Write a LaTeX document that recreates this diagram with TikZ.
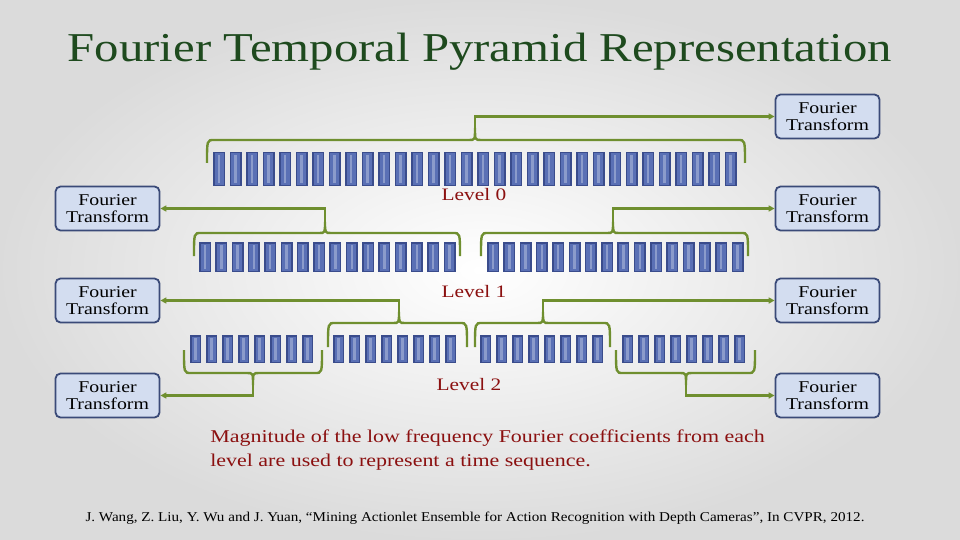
\documentclass[tikz,border=0pt]{standalone}
\usepackage{fontspec}
\setmainfont{Liberation Serif}
\usetikzlibrary{arrows.meta,shadows}
\definecolor{brg}{HTML}{6F8F2F}
\definecolor{barf}{HTML}{5A70B5}
\definecolor{bard}{HTML}{3A4C8C}
\definecolor{boxf}{HTML}{D3DDF0}
\definecolor{boxd}{HTML}{3A4A78}
\definecolor{ttl}{HTML}{1E4A1E}
\definecolor{lvl}{HTML}{8B1010}
\tikzset{
  wide/.style={xscale=1.22,transform shape},
  ftbox/.style={draw=boxd,fill=boxf,line width=1.8pt,rounded corners=5pt,minimum width=104pt,minimum height=44pt,inner sep=1pt},
  fttxt/.style={align=center,inner sep=0pt,font=\fontsize{16.5}{17.5}\selectfont,xscale=1.2,transform shape},
  brc/.style={draw=brg,line width=2.4pt},
  arr/.style={brc,-{Triangle[length=6pt,width=6pt]}},
  lvltxt/.style={text=lvl,font=\fontsize{17.5}{19}\selectfont,wide}
}
\newcommand\mybrace[6]{% x1 x2 xm ybase yend ypeak
  \draw[brc] (#1,#5) .. controls (#1,#4) .. (#1+7,#4) -- (#3-6,#4) .. controls (#3,#4) .. (#3,#6)
    .. controls (#3,#4) .. (#3+6,#4) -- (#2-7,#4) .. controls (#2,#4) .. (#2,#5);}
\newcommand\bars[6]{% start spacing count width ytop ybot
  \foreach \i in {1,...,#3}{
    \pgfmathsetmacro\xa{#1+(\i-1)*#2}
    \fill[bard] (\xa,#5) rectangle (\xa+#4,#6);
    \fill[barf] (\xa+1.5,#5+1.5) rectangle (\xa+#4-1.5,#6-1.5);
    \fill[barf!70!white] (\xa+#4*0.4,#5+3) rectangle (\xa+#4*0.6,#6-3);
  }}
\newcommand\ftnode[3]{% name x y
  \node[ftbox] (#1) at (#2,#3) {};
  \node[fttxt] (#1t) at (#2,#3) {Fourier\\Transform};}
\begin{document}
\begin{tikzpicture}[x=1pt,y=-1pt]
\shade[inner color=white,outer color=black!14] (0,0) rectangle (960,540);
\useasboundingbox (0,0) rectangle (960,540);
\node[text=ttl,font=\fontsize{41}{44}\selectfont,xscale=1.19,transform shape] (title) at (480,52) {Fourier Temporal Pyramid Representation};

% boxes
\ftnode{rt0}{827.5}{116.5}
\ftnode{rt1}{827.5}{208.5}
\ftnode{rt2}{827.5}{300.5}
\ftnode{rt3}{827.5}{395.5}
\ftnode{lt1}{107.5}{208.5}
\ftnode{lt2}{107.5}{300.5}
\ftnode{lt3}{107.5}{395.5}

% bars
\bars{213}{16.5}{32}{12}{152}{186}
\bars{199}{16.3}{16}{12}{242}{272}
\bars{487}{16.3}{16}{12}{242}{272}
\bars{190}{16}{8}{11}{335}{363}
\bars{333}{16}{8}{11}{335}{363}
\bars{480}{16}{8}{11}{335}{363}
\bars{622}{16}{8}{11}{335}{363}

% braces
\mybrace{207}{745}{475}{140}{163}{128}
\mybrace{194}{460}{325}{233}{256}{222}
\mybrace{481}{748}{613}{233}{256}{222}
\mybrace{184}{322}{253}{373}{350}{385}
\mybrace{616}{755}{686}{373}{350}{385}
\mybrace{328}{467}{399}{323}{347}{312}
\mybrace{475}{610}{543}{323}{347}{312}

\coordinate (s0) at (475,128);
\coordinate (s1a) at (325,222);
\coordinate (s1b) at (613,222);
\coordinate (s2a) at (253,385);
\coordinate (s2d) at (686,385);
\coordinate (s2b) at (399,312);
\coordinate (s2c) at (543,312);
\draw[arr] (s0) |- (rt0.west);
\draw[arr] (s1a) |- (lt1.east);
\draw[arr] (s1b) |- (rt1.west);
\draw[arr] (s2b) |- (lt2.east);
\draw[arr] (s2c) |- (rt2.west);
\draw[arr] (s2a) |- (lt3.east);
\draw[arr] (s2d) |- (rt3.west);

\node[lvltxt] (l0) at (474,195) {Level 0};
\node[lvltxt] (l1) at (474,292) {Level 1};
\node[lvltxt] (l2) at (469,385) {Level 2};

\node[text=lvl,anchor=north west,align=left,font=\fontsize{18}{24}\selectfont,wide] (desc) at (206,426)
  {Magnitude of the low frequency Fourier coefficients from each\\level are used to represent a time sequence.};
\node[font=\fontsize{13.5}{15}\selectfont,xscale=1.12,transform shape] (cite) at (475,518)
  {J. Wang, Z. Liu, Y. Wu and J. Yuan, ``Mining Actionlet Ensemble for Action Recognition with Depth Cameras'', In CVPR, 2012.};
\end{tikzpicture}
\end{document}
